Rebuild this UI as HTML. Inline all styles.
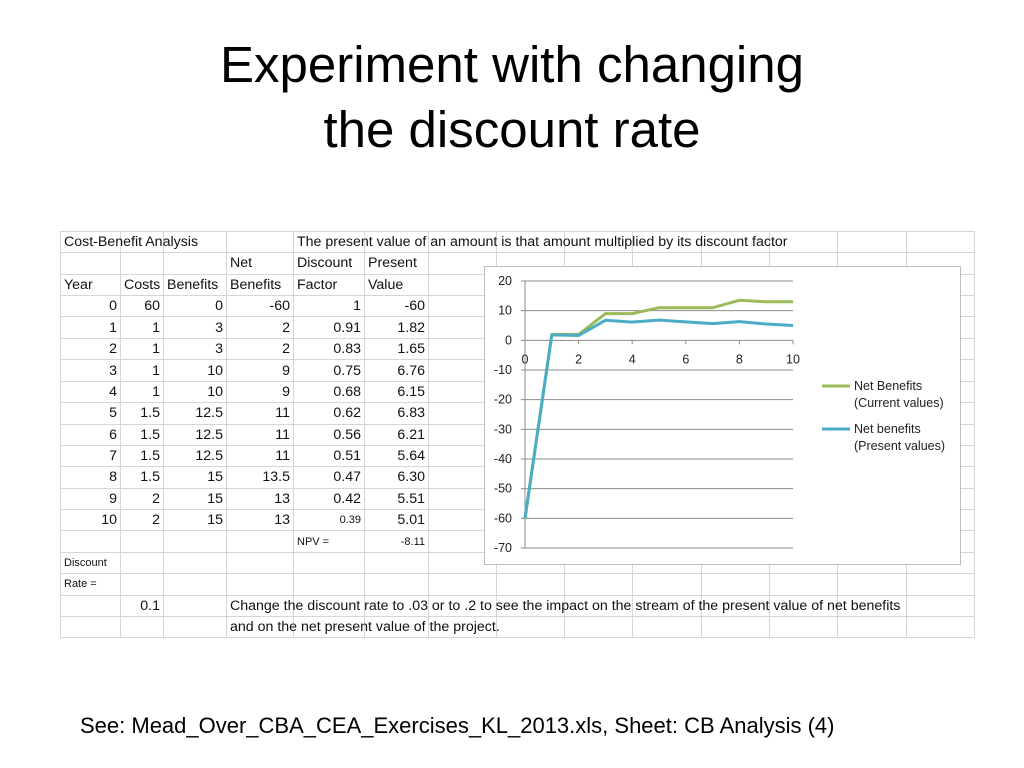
<!DOCTYPE html>
<html><head><meta charset="utf-8">
<style>
body{margin:0;width:1024px;height:768px;background:#fff;font-family:"Liberation Sans",sans-serif;position:relative;overflow:hidden}
#title{position:absolute;top:32px;left:0;width:1024px;text-align:center;font-size:51px;line-height:65px;color:#000}
#grid{position:absolute;left:60px;top:231px;width:913px;border-collapse:collapse;table-layout:fixed;font-size:14.2px;color:#111}
#grid td{border:1px solid #d6d6d6;height:20.4px;padding:0 3px;white-space:nowrap;overflow:visible;box-sizing:border-box}
#grid td.r{text-align:right}
#chart{position:absolute;left:484px;top:266px}
#foot{position:absolute;left:80px;top:713px;font-size:22px;color:#000}
</style></head><body>
<div id="title">Experiment with changing<br>the discount rate</div>
<table id="grid">
<colgroup><col style="width:60px"><col style="width:43px"><col style="width:63px"><col style="width:67px"><col style="width:71px"><col style="width:64px"><col style="width:68px"><col style="width:68px"><col style="width:68px"><col style="width:69px"><col style="width:68px"><col style="width:68px"><col style="width:69px"><col style="width:68px"></colgroup>
<tbody id="tb"></tbody></table>
<svg id="chart" width="478" height="300"></svg>
<div id="foot">See: Mead_Over_CBA_CEA_Exercises_KL_2013.xls, Sheet: CB Analysis (4)</div>
<script>
const years=[0,1,2,3,4,5,6,7,8,9,10];
const costs=["60","1","1","1","1","1.5","1.5","1.5","1.5","2","2"];
const benefits=["0","3","3","10","10","12.5","12.5","12.5","15","15","15"];
const netBenefits=[-60,2,2,9,9,11,11,11,13.5,13,13];
const discountFactors=["1","0.91","0.83","0.75","0.68","0.62","0.56","0.51","0.47","0.42","0.39"];
const presentValues=[-60,1.82,1.65,6.76,6.15,6.83,6.21,5.64,6.30,5.51,5.01];
const yTicks=[20,10,0,-10,-20,-30,-40,-50,-60,-70];
const xTicks=[0,2,4,6,8,10];

const tb=document.getElementById('tb');
function row(cells){
  const tr=document.createElement('tr');
  
  
  for(let i=0;i<14;i++){
    const td=document.createElement('td');
    
    
    const c=cells[i];
    if(c!==undefined){
      if(typeof c==='object'){td.textContent=c.t;if(c.r)td.className='r';}
      else td.textContent=c;
    }
    tr.appendChild(td);
  }
  tb.appendChild(tr);
}
row({0:'Cost-Benefit Analysis',4:'The present value of an amount is that amount multiplied by its discount factor'});
row({3:'Net',4:'Discount',5:'Present'});
row({0:'Year',1:'Costs',2:'Benefits',3:'Benefits',4:'Factor',5:'Value'});
years.forEach((y,i)=>{
  const pv=i===0?'-60':presentValues[i].toFixed(2);
  row({0:{t:String(y),r:1},1:{t:costs[i],r:1},2:{t:benefits[i],r:1},3:{t:String(netBenefits[i]),r:1},4:{t:discountFactors[i],r:1},5:{t:pv,r:1}});
});
row({4:'NPV =',5:{t:'-8.11',r:1}});
row({0:'Discount'});
row({0:'Rate ='});
row({1:{t:'0.1',r:1},3:'Change the discount rate to .03 or to .2 to see the impact on the stream of the present value of net benefits'});
row({3:'and on the net present value of the project.'});
const trs=document.querySelectorAll('#tb tr');
trs.forEach((tr,i)=>{tr.style.height=(i%3===2?21.6:21.3)+'px';});
[14,15,16].forEach(i=>{trs[i].style.fontSize='11px';});
trs[13].children[4].style.fontSize='11px';
trs[16].children[3].style.fontSize='14.2px';

// chart
const NS='http://www.w3.org/2000/svg';
const svg=document.getElementById('chart');
const x0=41,x1=309,yTop=15,yBot=282;
const xs=v=>x0+(v-0)/(10-0)*(x1-x0);
const ys=v=>yTop+(20-v)/(20-(-70))*(yBot-yTop);
function el(tag,attrs){const e=document.createElementNS(NS,tag);for(const k in attrs)e.setAttribute(k,attrs[k]);svg.appendChild(e);return e;}
const bg=el('rect',{x:0.5,y:0.5,width:476,height:298,fill:'#fff',stroke:'#bdbdbd'});


yTicks.forEach(t=>{
  const g=el('line',{x1:x0-4,x2:x1,y1:ys(t),y2:ys(t),stroke:'#8c8c8c','stroke-width':1});
  
  
  const tx=el('text',{x:28,y:ys(t)+4,'text-anchor':'end','font-size':12.5,fill:'#222','font-family':'Liberation Sans'});
  tx.textContent=t;
  
  
});
const ya=el('line',{x1:x0,x2:x0,y1:yTop,y2:yBot,stroke:'#8c8c8c'});


xTicks.forEach(t=>{
  const tk=el('line',{x1:xs(t),x2:xs(t),y1:ys(0),y2:ys(0)+4,stroke:'#8c8c8c'});
  
  
  const tx=el('text',{x:xs(t),y:ys(0)+23,'text-anchor':'middle','font-size':12.5,fill:'#222','font-family':'Liberation Sans'});
  tx.textContent=t;
  
  
});
function line(vals,color,name){
  const p=el('polyline',{points:vals.map((v,i)=>xs(years[i])+','+ys(v)).join(' '),fill:'none',stroke:color,'stroke-width':3,'stroke-linejoin':'round'});
  
  
}
line(netBenefits,'#9bbb59','net-benefits-current-line');
line(presentValues,'#4bacc6','net-benefits-present-line');
function legend(y,color,l1,l2,name){
  const s=el('line',{x1:338,x2:366,y1:y,y2:y,stroke:color,'stroke-width':3});
  
  
  [l1,l2].forEach((t,i)=>{
    const tx=el('text',{x:370,y:y+4+i*17,'font-size':12.5,fill:'#222','font-family':'Liberation Sans'});
    tx.textContent=t;
    
    
  });
}
legend(120,'#9bbb59','Net Benefits','(Current values)','legend-current');
legend(163,'#4bacc6','Net benefits','(Present values)','legend-present');
</script>
</body></html>
